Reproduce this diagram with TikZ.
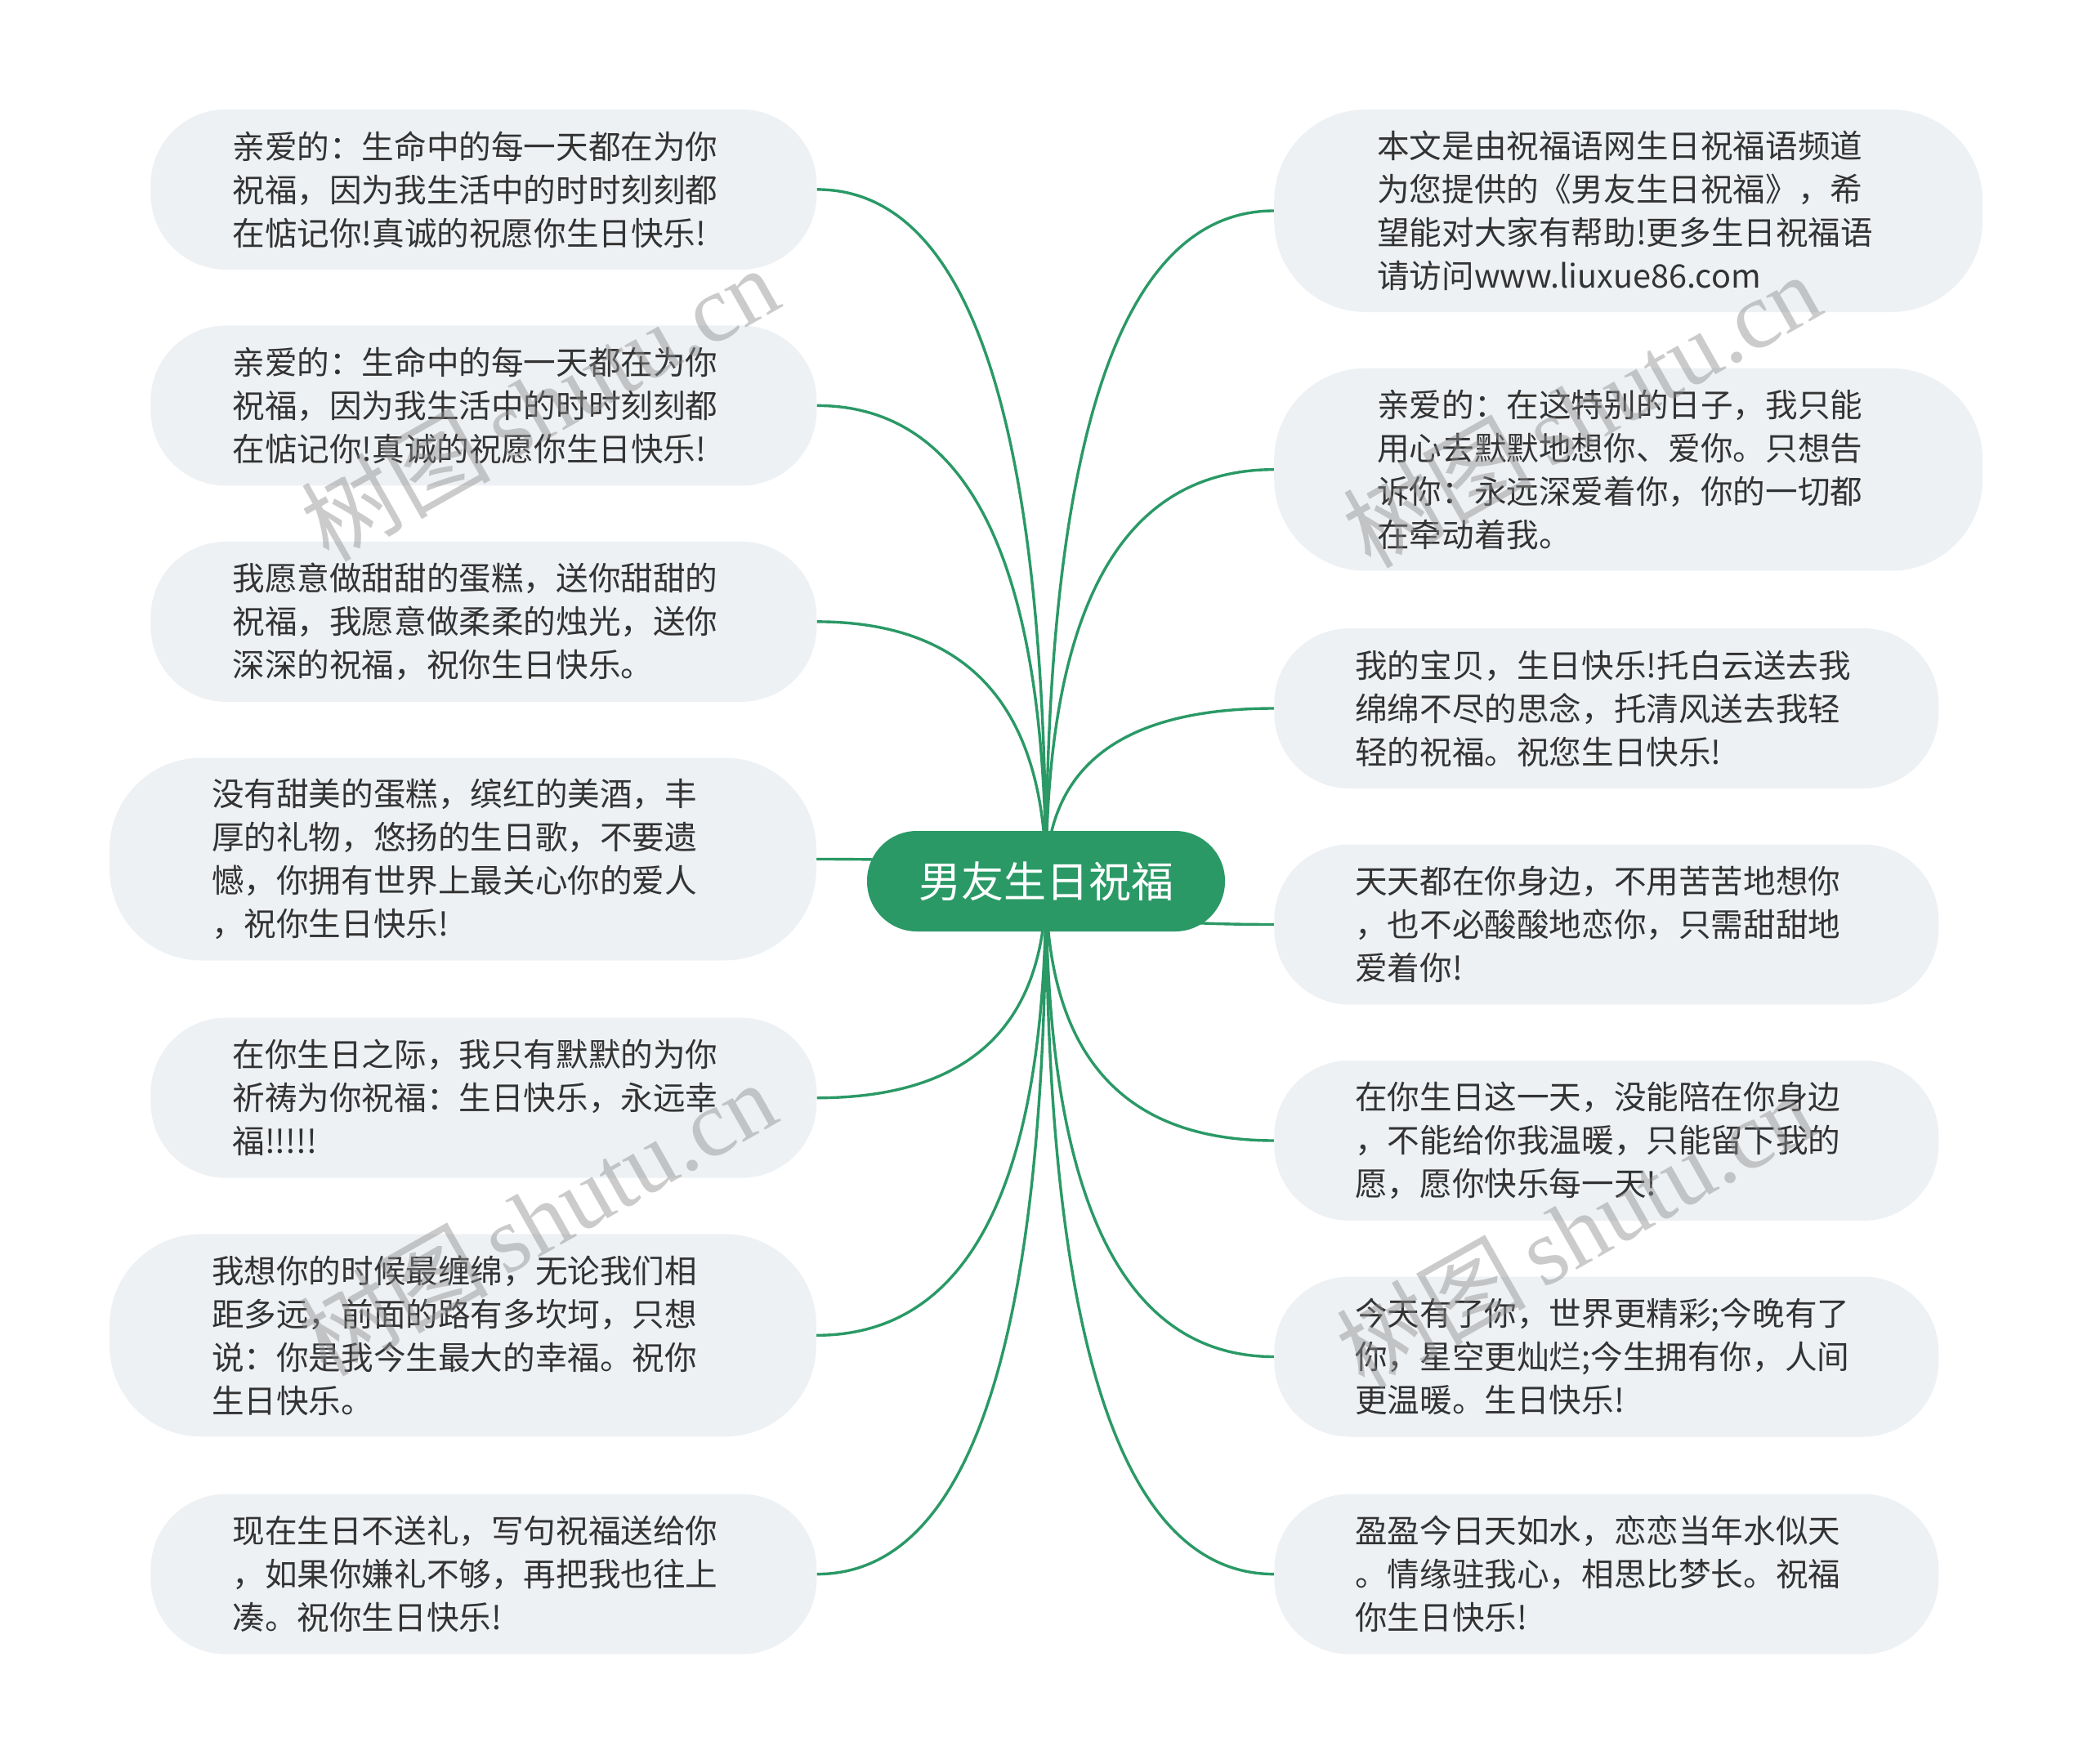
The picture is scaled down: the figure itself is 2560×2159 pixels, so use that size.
\documentclass[tikz,border=0pt]{standalone}
\usepackage{fontspec}
\setmainfont{Noto Sans CJK SC}
\newfontfamily\wmlatin{Liberation Serif}
\newfontfamily\wmcjk{Noto Sans CJK SC}
\usetikzlibrary{calc}
\pgfdeclarelayer{bg}
\pgfsetlayers{bg,main}
\definecolor{mgreen}{HTML}{2A9966}
\definecolor{boxfill}{HTML}{EEF1F4}
\definecolor{txt}{HTML}{333333}
\tikzset{
  leaf/.style={draw=none, fill=boxfill, inner sep=0pt, text width=615pt, align=left,
    text=txt, font=\fontsize{39.6}{53}\selectfont},
  leafthree/.style={leaf, minimum width=815pt, minimum height=196pt, rounded corners=92pt},
  leaffour/.style={leaf, minimum height=248pt, rounded corners=112pt},
  root/.style={fill=mgreen, text=white, inner sep=0pt, minimum width=438pt, minimum height=123pt,
    rounded corners=61pt, font=\fontsize{52}{60}\selectfont},
  conn/.style={draw=mgreen, line width=3.4pt},
  wm/.style={text=black!45, text opacity=0.45, rotate=29.5, inner sep=0pt,
    font=\fontsize{116}{120}\selectfont}
}
\begin{document}
\begin{tikzpicture}[x=1pt,y=-1pt]
\useasboundingbox (0,0) rectangle (2560,2159);
\node[root] (c) at (1280,1078.5) {男友生日祝福};

\node[leafthree] (l1) at (591.9,231.9) {亲爱的：生命中的每一天都在为你\\祝福，因为我生活中的时时刻刻都\\在惦记你!真诚的祝愿你生日快乐!};
\node[leafthree] (l2) at (591.9,496.4) {亲爱的：生命中的每一天都在为你\\祝福，因为我生活中的时时刻刻都\\在惦记你!真诚的祝愿你生日快乐!};
\node[leafthree] (l3) at (591.9,760.9) {我愿意做甜甜的蛋糕，送你甜甜的\\祝福，我愿意做柔柔的烛光，送你\\深深的祝福，祝你生日快乐。};
\node[leaffour, minimum width=865pt] (l4) at (566.5,1051.5) {没有甜美的蛋糕，缤红的美酒，丰\\厚的礼物，悠扬的生日歌，不要遗\\憾，你拥有世界上最关心你的爱人\\，祝你生日快乐!};
\node[leafthree] (l5) at (591.9,1343.7) {在你生日之际，我只有默默的为你\\祈祷为你祝福：生日快乐，永远幸\\福!!!!!};
\node[leaffour, minimum width=865pt] (l6) at (566.5,1634.3) {我想你的时候最缠绵，无论我们相\\距多远，前面的路有多坎坷，只想\\说：你是我今生最大的幸福。祝你\\生日快乐。};
\node[leafthree] (l7) at (591.9,1926.6) {现在生日不送礼，写句祝福送给你\\，如果你嫌礼不够，再把我也往上\\凑。祝你生日快乐!};

\node[leaffour, minimum width=867pt] (r1) at (1992.7,258.0) {本文是由祝福语网生日祝福语频道\\为您提供的《男友生日祝福》，希\\望能对大家有帮助!更多生日祝福语\\请访问www.liuxue86.com};
\node[leaffour, minimum width=867pt] (r2) at (1992.7,574.7) {亲爱的：在这特别的日子，我只能\\用心去默默地想你、爱你。只想告\\诉你：永远深爱着你，你的一切都\\在牵动着我。};
\node[leafthree, minimum width=813pt] (r3) at (1965.8,867.0) {我的宝贝，生日快乐!托白云送去我\\绵绵不尽的思念，托清风送去我轻\\轻的祝福。祝您生日快乐!};
\node[leafthree, minimum width=813pt] (r4) at (1965.8,1131.5) {天天都在你身边，不用苦苦地想你\\，也不必酸酸地恋你，只需甜甜地\\爱着你!};
\node[leafthree, minimum width=813pt] (r5) at (1965.8,1396.0) {在你生日这一天，没能陪在你身边\\，不能给你我温暖，只能留下我的\\愿，愿你快乐每一天!};
\node[leafthree, minimum width=813pt] (r6) at (1965.8,1660.5) {今天有了你，世界更精彩;今晚有了\\你，星空更灿烂;今生拥有你，人间\\更温暖。生日快乐!};
\node[leafthree, minimum width=813pt] (r7) at (1965.8,1926.6) {盈盈今日天如水，恋恋当年水似天\\。情缘驻我心，相思比梦长。祝福\\你生日快乐!};

\begin{pgfonlayer}{bg}
\foreach \n in {l1,l2,l3,l4,l5,l6,l7}{
  \draw[conn] (c.center) .. controls ($(c.center)!0.6667!(c.center|-\n.east)$) and ($(\n.east)!0.6667!(c.center|-\n.east)$) .. (\n.east);
}
\foreach \n in {r1,r2,r3,r4,r5,r6,r7}{
  \draw[conn] (c.center) .. controls ($(c.center)!0.6667!(c.center|-\n.west)$) and ($(\n.west)!0.6667!(c.center|-\n.west)$) .. (\n.west);
}
\end{pgfonlayer}

\node[wm] (w1) at (660,493) {\wmcjk 树图\,\wmlatin shutu.cn};
\node[wm] (w2) at (1935,501) {\wmcjk 树图\,\wmlatin shutu.cn};
\node[wm] (w3) at (657,1490) {\wmcjk 树图\,\wmlatin shutu.cn};
\node[wm] (w4) at (1927,1505) {\wmcjk 树图\,\wmlatin shutu.cn};
\end{tikzpicture}
\end{document}
